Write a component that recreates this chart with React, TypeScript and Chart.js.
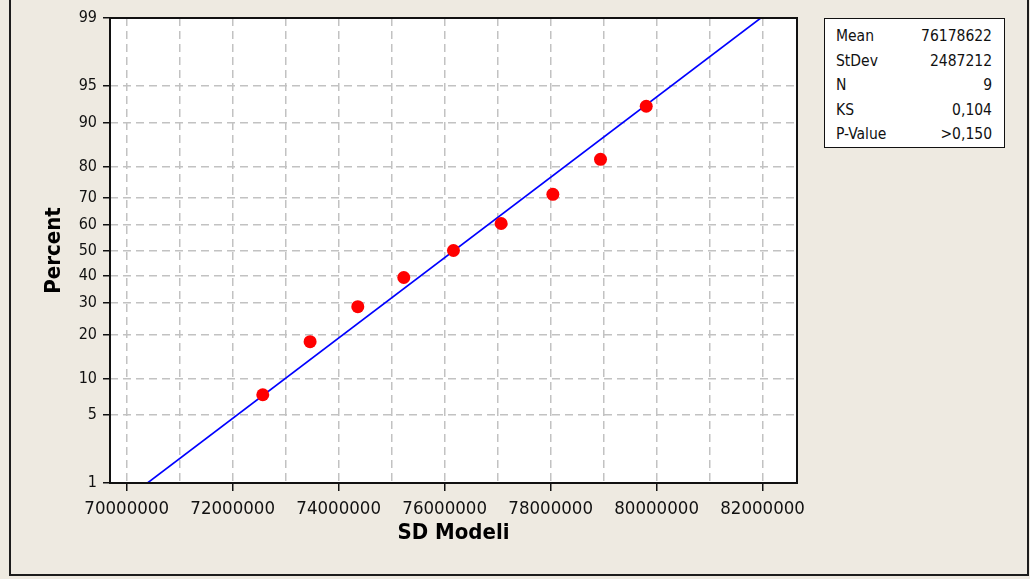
import React, { useEffect, useRef } from 'react';
import { Chart, registerables } from 'chart.js';

Chart.register(...registerables);

// Observed data (SD Modeli values) and their plotting percentiles
const sdModeli = [72568000, 73461000, 74361000, 75229000, 76166000, 77066000, 78042000, 78941000, 79804000];
const percents = [7.45, 18.09, 28.72, 39.36, 50, 60.64, 71.28, 81.91, 92.55];

// Fitted normal line end points (x at 1% and 99%)
const fitX = [70392600, 81964600];
const fitPercent = [1, 99];

// Axis ticks
const yTickPercents = [1, 5, 10, 20, 30, 40, 50, 60, 70, 80, 90, 95, 99];
const xTickValues = [70000000, 71000000, 72000000, 73000000, 74000000, 75000000, 76000000, 77000000, 78000000, 79000000, 80000000, 81000000, 82000000];
const xTickLabels = ['70000000', '', '72000000', '', '74000000', '', '76000000', '', '78000000', '', '80000000', '', '82000000'];
const xMin = 69685000;
const xMax = 82649000;

// Statistics box
const statsLabels = ['Mean', 'StDev', 'N', 'KS', 'P-Value'];
const statsValues = ['76178622', '2487212', '9', '0,104', '>0,150'];

const BG = '#EEEAE1';
const FONT = '"DejaVu Sans Condensed", "DejaVu Sans", sans-serif';

// Inverse standard normal CDF (Acklam) – used for the probability axis transform
function normInv(p: number): number {
  const a = [-3.969683028665376e1, 2.209460984245205e2, -2.759285104469687e2, 1.38357751867269e2, -3.066479806614716e1, 2.506628277459239];
  const b = [-5.447609879822406e1, 1.615858368580409e2, -1.556989798598866e2, 6.680131188771972e1, -1.328068155288572e1];
  const c = [-7.784894002430293e-3, -3.223964580411365e-1, -2.400758277161838, -2.549732539343734, 4.374664141464968, 2.938163982698783];
  const d = [7.784695709041462e-3, 3.224671290700398e-1, 2.445134137142996, 3.754408661907416];
  const pl = 0.02425;
  const ph = 1 - pl;
  let q: number;
  let r: number;
  if (p < pl) {
    q = Math.sqrt(-2 * Math.log(p));
    return (((((c[0] * q + c[1]) * q + c[2]) * q + c[3]) * q + c[4]) * q + c[5]) / ((((d[0] * q + d[1]) * q + d[2]) * q + d[3]) * q + 1);
  }
  if (p <= ph) {
    q = p - 0.5;
    r = q * q;
    return ((((((a[0] * r + a[1]) * r + a[2]) * r + a[3]) * r + a[4]) * r + a[5]) * q) / (((((b[0] * r + b[1]) * r + b[2]) * r + b[3]) * r + b[4]) * r + 1);
  }
  q = Math.sqrt(-2 * Math.log(1 - p));
  return -(((((c[0] * q + c[1]) * q + c[2]) * q + c[3]) * q + c[4]) * q + c[5]) / ((((d[0] * q + d[1]) * q + d[2]) * q + d[3]) * q + 1);
}

const framePlugin = {
  id: 'plotFrame',
  beforeDraw(chart: any) {
    const { ctx, chartArea: a } = chart;
    ctx.save();
    ctx.fillStyle = '#ffffff';
    ctx.fillRect(a.left, a.top, a.right - a.left, a.bottom - a.top);
    ctx.restore();
  },
  afterDraw(chart: any) {
    const { ctx, chartArea: a } = chart;
    ctx.save();
    ctx.strokeStyle = '#111111';
    ctx.lineWidth = 2;
    ctx.strokeRect(a.left, a.top, a.right - a.left, a.bottom - a.top);
    ctx.restore();
  },
};

export default function App() {
  const canvasRef = useRef<HTMLCanvasElement | null>(null);

  useEffect(() => {
    if (!canvasRef.current) return;
    const points = sdModeli.map((x, i) => ({ x, y: normInv(percents[i] / 100) }));
    const fitLine = fitX.map((x, i) => ({ x, y: normInv(fitPercent[i] / 100) }));
    const yMin = normInv(0.01);
    const yMax = normInv(0.99);

    const chart = new Chart(canvasRef.current, {
      type: 'scatter',
      data: {
        datasets: [
          {
            label: 'SD Modeli',
            data: points,
            backgroundColor: '#ff0000',
            borderColor: '#ff0000',
            borderWidth: 0,
            pointRadius: 6.5,
            showLine: false,
          },
          {
            label: 'Fit',
            data: fitLine,
            borderColor: '#0000ff',
            backgroundColor: '#0000ff',
            borderWidth: 1.6,
            pointRadius: 0,
            showLine: true,
          },
        ],
      },
      options: {
        animation: false,
        responsive: true,
        maintainAspectRatio: false,
        layout: { padding: { left: 0, top: 18, right: 233, bottom: 0 } },
        plugins: {
          legend: { display: false },
          tooltip: { enabled: false },
        },
        scales: {
          x: {
            type: 'linear',
            min: xMin,
            max: xMax,
            afterBuildTicks: (scale: any) => {
              scale.ticks = xTickValues.map((v) => ({ value: v }));
            },
            afterFit: (scale: any) => {
              scale.height = 96;
            },
            ticks: {
              autoSkip: false,
              maxRotation: 0,
              minRotation: 0,
              padding: 7,
              color: '#111111',
              font: { family: FONT, size: 18.5 },
              callback: (_v: any, i: number) => xTickLabels[i],
            },
            grid: {
              color: '#c2c2c2',
              lineWidth: 1.5,
              drawTicks: true,
              tickLength: 8,
              tickWidth: 1.5,
              tickColor: (ctx: any) => (xTickLabels[ctx.index] ? '#111111' : 'rgba(0,0,0,0)'),
            },
            border: { display: false, dash: [8, 5] },
            title: {
              display: true,
              text: 'SD Modeli',
              color: '#000000',
              font: { family: FONT, size: 22, weight: 'bold' },
              padding: { top: 0, bottom: 33 },
            },
          },
          y: {
            type: 'linear',
            min: yMin,
            max: yMax,
            afterBuildTicks: (scale: any) => {
              scale.ticks = yTickPercents.map((p) => ({ value: normInv(p / 100) }));
            },
            afterFit: (scale: any) => {
              scale.width = 110;
            },
            ticks: {
              autoSkip: false,
              padding: 6,
              color: '#111111',
              font: { family: FONT, size: 16 },
              callback: (_v: any, i: number) => String(yTickPercents[i]),
            },
            grid: {
              color: '#c2c2c2',
              lineWidth: 1.5,
              drawTicks: true,
              tickLength: 7,
              tickWidth: 1.5,
              tickColor: '#111111',
            },
            border: { display: false, dash: [8, 5] },
            title: {
              display: true,
              text: 'Percent',
              color: '#000000',
              font: { family: FONT, size: 22, weight: 'bold' },
              padding: { top: 41, bottom: 0 },
            },
          },
        },
      },
      plugins: [framePlugin],
    } as any);

    return () => {
      chart.destroy();
    };
  }, []);

  return (
    <div style={{ position: 'fixed', left: 0, top: 0, width: 1030, height: 579, background: BG, overflow: 'hidden' }}>
      <div
        style={{
          position: 'absolute',
          left: 9,
          top: -10,
          width: 1020,
          height: 586,
          boxSizing: 'border-box',
          border: '2px solid #1c1c1c',
        }}
      />
      <div style={{ position: 'absolute', left: 0, top: 0, width: 1030, height: 579 }}>
        <canvas ref={canvasRef} />
      </div>
      <div
        style={{
          position: 'absolute',
          left: 824,
          top: 18,
          width: 181,
          height: 130,
          boxSizing: 'border-box',
          border: '1.5px solid #111',
          background: '#ffffff',
          fontFamily: FONT,
          fontSize: 15.5,
          color: '#111',
        }}
      >
        {statsLabels.map((lab, i) => (
          <div
            key={lab}
            style={{
              position: 'absolute',
              left: 11,
              right: 12,
              top: 5 + i * 24.5,
              height: 24,
              lineHeight: '24px',
              display: 'flex',
              justifyContent: 'space-between',
            }}
          >
            <span>{lab}</span>
            <span>{statsValues[i]}</span>
          </div>
        ))}
      </div>
    </div>
  );
}
